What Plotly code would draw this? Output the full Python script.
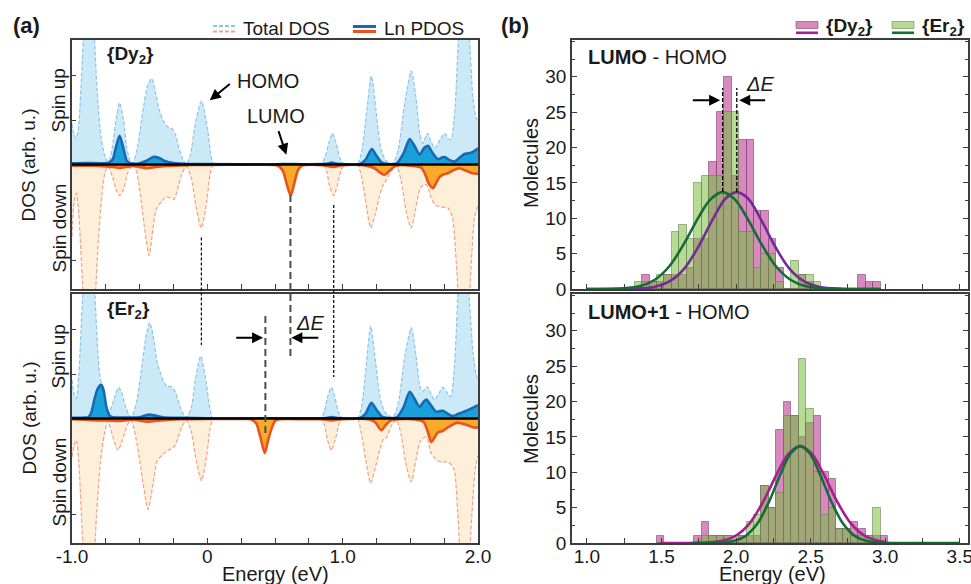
import plotly.graph_objects as go

W, H = 971, 584
FONT = "Liberation Sans, Arial, sans-serif"

# ---------------- Density of states, (energy in eV, DOS in arb. u.) ----------------
DY_UP_TOTAL = [
    (-1.00, 0.33), (-0.985, 0.24), (-0.968, 0.21), (-0.95, 0.32), (-0.93, 0.70), (-0.905, 1.25),
    (-0.875, 1.60), (-0.845, 1.25), (-0.815, 0.60), (-0.785, 0.22), (-0.755, 0.06), (-0.73, 0.02),
    (-0.70, 0.15), (-0.675, 0.36), (-0.648, 0.495), (-0.62, 0.36), (-0.595, 0.13), (-0.57, 0.03),
    (-0.55, 0.01), (-0.52, 0.12), (-0.48, 0.40), (-0.44, 0.64), (-0.41, 0.69), (-0.38, 0.56),
    (-0.35, 0.42), (-0.32, 0.34), (-0.29, 0.30), (-0.26, 0.285), (-0.235, 0.24), (-0.21, 0.13),
    (-0.18, 0.04), (-0.155, 0.0), (-0.125, 0.08), (-0.09, 0.32), (-0.044, 0.51), (0.0, 0.30),
    (0.025, 0.08), (0.045, 0.0), (0.07, 0.0), (0.80, 0.0), (0.84, 0.0), (0.87, 0.06), (0.90, 0.18),
    (0.924, 0.25), (0.95, 0.18), (0.98, 0.05), (1.01, 0.0), (1.04, 0.0), (1.08, 0.0), (1.11, 0.0),
    (1.14, 0.10), (1.175, 0.40), (1.212, 0.71), (1.245, 0.45), (1.28, 0.14), (1.32, 0.03),
    (1.37, 0.01), (1.41, 0.12), (1.46, 0.50), (1.507, 0.75), (1.54, 0.55), (1.57, 0.25),
    (1.594, 0.17), (1.626, 0.25), (1.655, 0.18), (1.68, 0.13), (1.72, 0.20), (1.754, 0.25),
    (1.78, 0.21), (1.80, 0.20), (1.83, 0.45), (1.86, 1.10), (1.90, 1.55), (1.935, 1.05),
    (1.963, 0.53), (1.985, 0.38), (2.0, 0.35),
]
DY_UP_LN = [
    (-1.0, 0.01), (-0.9, 0.012), (-0.8, 0.01), (-0.73, 0.015), (-0.70, 0.04), (-0.675, 0.14),
    (-0.648, 0.23), (-0.62, 0.13), (-0.595, 0.03), (-0.57, 0.01), (-0.50, 0.01), (-0.45, 0.03),
    (-0.40, 0.06), (-0.36, 0.055), (-0.32, 0.03), (-0.25, 0.012), (-0.15, 0.004), (0.0, 0.003),
    (0.5, 0.002), (0.6, 0.004), (0.7, 0.002), (0.88, 0.005), (0.92, 0.015), (0.96, 0.005),
    (1.13, 0.005), (1.17, 0.04), (1.215, 0.125), (1.25, 0.07), (1.29, 0.015), (1.34, 0.003),
    (1.40, 0.01), (1.45, 0.09), (1.495, 0.205), (1.53, 0.15), (1.569, 0.08), (1.60, 0.13),
    (1.63, 0.15), (1.66, 0.10), (1.704, 0.043), (1.73, 0.055), (1.754, 0.06), (1.79, 0.035),
    (1.828, 0.024), (1.87, 0.06), (1.90, 0.085), (1.93, 0.09), (1.96, 0.10), (2.0, 0.13),
]
DY_DN_TOTAL = [
    (-1.0, -0.58), (-0.985, -0.30), (-0.968, -0.23), (-0.95, -0.40), (-0.925, -0.90), (-0.90, -1.40),
    (-0.87, -1.60), (-0.84, -1.30), (-0.81, -0.70), (-0.78, -0.25), (-0.755, -0.06), (-0.734, -0.016),
    (-0.70, -0.10), (-0.675, -0.20), (-0.648, -0.25), (-0.62, -0.20), (-0.59, -0.07), (-0.56, -0.01),
    (-0.537, -0.01), (-0.50, -0.20), (-0.465, -0.50), (-0.43, -0.73), (-0.40, -0.50), (-0.377, -0.36),
    (-0.34, -0.30), (-0.303, -0.26), (-0.27, -0.27), (-0.246, -0.28), (-0.22, -0.20), (-0.19, -0.08),
    (-0.155, -0.016), (-0.12, -0.10), (-0.085, -0.33), (-0.044, -0.51), (-0.005, -0.30), (0.02, -0.08),
    (0.042, -0.003), (0.07, 0.0), (0.46, 0.0), (0.50, 0.0), (0.53, -0.015), (0.56, -0.06),
    (0.59, -0.17), (0.616, -0.25), (0.645, -0.15), (0.67, -0.05), (0.70, -0.01), (0.72, 0.0),
    (0.75, 0.0), (0.82, 0.0), (0.855, 0.0), (0.88, -0.05), (0.905, -0.18), (0.933, -0.25),
    (0.96, -0.17), (0.99, -0.04), (1.015, 0.0), (1.04, 0.0), (1.08, 0.0), (1.11, 0.0),
    (1.14, -0.10), (1.17, -0.30), (1.207, -0.51), (1.24, -0.40), (1.273, -0.25), (1.30, -0.16),
    (1.32, -0.13), (1.36, -0.05), (1.397, -0.01), (1.43, -0.12), (1.47, -0.38), (1.507, -0.51),
    (1.54, -0.35), (1.57, -0.20), (1.60, -0.16), (1.625, -0.17), (1.655, -0.27), (1.69, -0.33),
    (1.73, -0.34), (1.778, -0.35), (1.81, -0.42), (1.84, -0.80), (1.87, -1.30), (1.90, -1.55),
    (1.93, -1.20), (1.955, -0.70), (1.975, -0.42), (2.0, -0.33),
]
DY_DN_LN = [
    (-1.0, -0.01), (-0.85, -0.01), (-0.75, -0.015), (-0.70, -0.02), (-0.648, -0.027), (-0.60, -0.02),
    (-0.55, -0.012), (-0.50, -0.02), (-0.44, -0.03), (-0.38, -0.02), (-0.30, -0.012), (-0.2, -0.008),
    (-0.1, -0.004), (0.0, -0.003), (0.3, -0.002), (0.50, -0.003), (0.53, -0.015), (0.56, -0.056),
    (0.59, -0.17), (0.616, -0.25), (0.645, -0.14), (0.67, -0.045), (0.70, -0.01), (0.72, -0.004),
    (0.85, -0.005), (0.933, -0.02), (1.0, -0.006), (1.15, -0.005), (1.236, -0.03), (1.27, -0.06),
    (1.31, -0.083), (1.345, -0.05), (1.384, -0.015), (1.42, -0.005), (1.50, -0.01), (1.58, -0.025),
    (1.61, -0.08), (1.635, -0.15), (1.667, -0.19), (1.69, -0.15), (1.716, -0.10), (1.745, -0.08),
    (1.778, -0.07), (1.82, -0.045), (1.865, -0.03), (1.90, -0.045), (1.926, -0.056), (1.96, -0.07),
    (2.0, -0.075),
]
ER_UP_TOTAL = [
    (-1.0, 0.31), (-0.985, 0.20), (-0.968, 0.16), (-0.95, 0.35), (-0.925, 0.90), (-0.90, 1.40),
    (-0.875, 1.65), (-0.85, 1.40), (-0.833, 1.05), (-0.81, 0.55), (-0.796, 0.36), (-0.775, 0.22),
    (-0.755, 0.08), (-0.734, 0.03), (-0.70, 0.12), (-0.675, 0.21), (-0.655, 0.25), (-0.63, 0.20),
    (-0.60, 0.08), (-0.562, 0.01), (-0.52, 0.15), (-0.48, 0.45), (-0.45, 0.68), (-0.426, 0.77),
    (-0.40, 0.66), (-0.37, 0.45), (-0.328, 0.31), (-0.30, 0.26), (-0.266, 0.255), (-0.24, 0.22),
    (-0.217, 0.15), (-0.19, 0.06), (-0.155, 0.01), (-0.12, 0.08), (-0.09, 0.30), (-0.049, 0.50),
    (-0.01, 0.30), (0.02, 0.07), (0.042, 0.0), (0.07, 0.0), (0.80, 0.0), (0.84, 0.0), (0.865, 0.06),
    (0.89, 0.18), (0.916, 0.25), (0.94, 0.18), (0.97, 0.05), (1.0, 0.0), (1.04, 0.0), (1.08, 0.0),
    (1.11, 0.0), (1.14, 0.10), (1.17, 0.38), (1.207, 0.74), (1.24, 0.48), (1.28, 0.15),
    (1.32, 0.04), (1.372, 0.01), (1.41, 0.12), (1.46, 0.50), (1.507, 0.73), (1.54, 0.52),
    (1.57, 0.26), (1.586, 0.215), (1.626, 0.255), (1.655, 0.19), (1.68, 0.15), (1.71, 0.20),
    (1.741, 0.25), (1.77, 0.21), (1.798, 0.175), (1.825, 0.40), (1.855, 1.05), (1.895, 1.55),
    (1.93, 1.05), (1.963, 0.53), (1.985, 0.36), (2.0, 0.30),
]
ER_UP_LN = [
    (-1.0, 0.005), (-0.95, 0.005), (-0.90, 0.008), (-0.88, 0.01), (-0.857, 0.05), (-0.835, 0.15),
    (-0.81, 0.24), (-0.783, 0.27), (-0.765, 0.22), (-0.746, 0.094), (-0.72, 0.02), (-0.70, 0.01),
    (-0.60, 0.008), (-0.50, 0.01), (-0.46, 0.025), (-0.426, 0.032), (-0.39, 0.025), (-0.33, 0.01),
    (-0.2, 0.005), (0.0, 0.002), (0.5, 0.002), (0.88, 0.004), (0.916, 0.012), (0.96, 0.004),
    (1.13, 0.005), (1.17, 0.04), (1.212, 0.126), (1.25, 0.07), (1.29, 0.015), (1.34, 0.003),
    (1.40, 0.01), (1.45, 0.09), (1.495, 0.215), (1.53, 0.16), (1.569, 0.094), (1.595, 0.13),
    (1.618, 0.153), (1.65, 0.11), (1.69, 0.054), (1.715, 0.058), (1.741, 0.062), (1.78, 0.035),
    (1.815, 0.019), (1.86, 0.04), (1.91, 0.06), (1.96, 0.085), (2.0, 0.108),
]
ER_DN_TOTAL = [
    (-1.0, -0.31), (-0.985, -0.22), (-0.968, -0.175), (-0.95, -0.35), (-0.925, -0.90), (-0.90, -1.40),
    (-0.87, -1.62), (-0.845, -1.35), (-0.82, -0.80), (-0.79, -0.35), (-0.76, -0.12), (-0.734, -0.02),
    (-0.70, -0.14), (-0.66, -0.255), (-0.63, -0.18), (-0.59, -0.05), (-0.562, -0.015), (-0.52, -0.20),
    (-0.475, -0.52), (-0.438, -0.73), (-0.40, -0.52), (-0.37, -0.34), (-0.33, -0.29), (-0.29, -0.255),
    (-0.246, -0.23), (-0.22, -0.17), (-0.19, -0.07), (-0.155, -0.015), (-0.12, -0.10), (-0.085, -0.32),
    (-0.044, -0.50), (-0.005, -0.30), (0.02, -0.08), (0.042, -0.003), (0.07, 0.0), (0.26, 0.0),
    (0.30, 0.0), (0.33, -0.01), (0.36, -0.04), (0.39, -0.14), (0.424, -0.277), (0.45, -0.18),
    (0.473, -0.09), (0.50, -0.02), (0.53, -0.003), (0.56, 0.0), (0.80, 0.0), (0.84, 0.0),
    (0.865, -0.05), (0.89, -0.18), (0.916, -0.255), (0.945, -0.17), (0.975, -0.04), (1.0, 0.0),
    (1.04, 0.0), (1.08, 0.0), (1.11, 0.0), (1.138, -0.12), (1.17, -0.33), (1.207, -0.52),
    (1.24, -0.40), (1.273, -0.255), (1.30, -0.17), (1.32, -0.16), (1.36, -0.06), (1.397, -0.01),
    (1.43, -0.12), (1.47, -0.38), (1.507, -0.51), (1.54, -0.34), (1.575, -0.18), (1.618, -0.15),
    (1.655, -0.28), (1.704, -0.34), (1.74, -0.35), (1.778, -0.35), (1.82, -0.40), (1.85, -0.75),
    (1.875, -1.25), (1.90, -1.60), (1.93, -1.25), (1.956, -0.75), (1.98, -0.40), (2.0, -0.30),
]
ER_DN_LN = [
    (-1.0, -0.005), (-0.9, -0.01), (-0.8, -0.015), (-0.73, -0.015), (-0.66, -0.02), (-0.55, -0.01),
    (-0.44, -0.025), (-0.35, -0.015), (-0.2, -0.006), (0.0, -0.003), (0.25, -0.003), (0.30, -0.004),
    (0.33, -0.01), (0.362, -0.04), (0.39, -0.14), (0.424, -0.277), (0.45, -0.17), (0.473, -0.085),
    (0.50, -0.02), (0.522, -0.008), (0.70, -0.005), (0.85, -0.006), (0.916, -0.015), (1.0, -0.005),
    (1.20, -0.008), (1.24, -0.03), (1.286, -0.094), (1.32, -0.05), (1.36, -0.013), (1.42, -0.005),
    (1.55, -0.01), (1.60, -0.03), (1.63, -0.11), (1.655, -0.19), (1.68, -0.15), (1.704, -0.11),
    (1.74, -0.10), (1.78, -0.07), (1.84, -0.035), (1.88, -0.04), (1.926, -0.055), (1.96, -0.07),
    (2.0, -0.073),
]

# Frontier-orbital energies (eV)
HOMO_E = -0.044
LUMO_DY_E = 0.614
LUMO_ER_E = 0.429
LUMO1_E = 0.934

# ---------------- Gap histograms (bin centres in eV, counts) ----------------
BIN_WIDTH = 0.05
LH_BINS = [1.345, 1.395, 1.445, 1.495, 1.545, 1.595, 1.645, 1.695, 1.745, 1.795, 1.845,
           1.895, 1.945, 1.995, 2.045, 2.095, 2.145, 2.195, 2.245, 2.295, 2.345, 2.395,
           2.445, 2.495, 2.545, 2.595, 2.645, 2.695, 2.745, 2.795, 2.845, 2.895, 2.945]
LH_DY = [0, 2, 1, 1, 2, 2, 2, 3, 7, 7, 18, 25, 30, 16, 21, 21, 11, 11, 7, 3, 0, 0,
         2, 1, 0, 0, 0, 0, 0, 0, 2, 1, 1]
LH_ER = [1, 1, 1, 2, 2, 8, 9, 7, 15, 16, 16, 16, 25, 25, 8, 8, 3, 5, 5, 1, 0, 4,
         2, 2, 1, 0, 0, 0, 0, 0, 0, 0, 0]

L1H_BINS = [1.495, 1.545, 1.595, 1.645, 1.695, 1.745, 1.795, 1.845, 1.895, 1.945, 1.995,
            2.045, 2.095, 2.145, 2.195, 2.245, 2.295, 2.345, 2.395, 2.445, 2.495, 2.545,
            2.595, 2.645, 2.695, 2.745, 2.795, 2.845, 2.895, 2.945, 2.995]
L1H_DY = [1, 0, 0, 0, 0, 1, 3, 1, 1, 1, 0, 1, 1, 1, 8, 5, 16, 20, 18, 15, 17, 18,
          10, 9, 2, 2, 3, 2, 1, 1, 1]
L1H_ER = [0, 0, 0, 0, 0, 0, 1, 1, 1, 1, 1, 1, 3, 4, 8, 5, 7, 18, 18, 26, 19, 10,
          4, 5, 2, 2, 1, 1, 1, 5, 0]

# Gaussian fit curves, sampled (eV, molecules)
LH_FIT_DY_X = [1.0, 1.3, 1.45, 1.55, 1.65, 1.75, 1.85, 1.93, 2.005, 2.08, 2.16, 2.26, 2.36, 2.46, 2.56, 2.71, 2.97]
LH_FIT_DY_Y = [0.0, 0.03, 0.29, 1.03, 2.82, 6.08, 10.1, 12.8, 13.7, 12.8, 10.1, 6.08, 2.82, 1.03, 0.29, 0.03, 0.0]
LH_FIT_ER_X = [1.0, 1.2, 1.35, 1.45, 1.55, 1.65, 1.75, 1.83, 1.91, 1.99, 2.07, 2.17, 2.27, 2.37, 2.47, 2.62, 2.97]
LH_FIT_ER_Y = [0.0, 0.05, 0.39, 1.24, 3.15, 6.37, 10.2, 12.7, 13.7, 12.7, 10.2, 6.37, 3.15, 1.24, 0.39, 0.05, 0.0]
L1H_FIT_DY_X = [1.5, 1.746, 1.898, 1.993, 2.088, 2.183, 2.278, 2.354, 2.43, 2.506, 2.582, 2.677, 2.772, 2.867, 2.962, 3.0]
L1H_FIT_DY_Y = [0.0, 0.02, 0.27, 0.97, 2.71, 5.89, 9.95, 12.65, 13.7, 12.65, 9.95, 5.89, 2.71, 0.97, 0.27, 0.15]
L1H_FIT_ER_X = [1.7, 1.854, 1.982, 2.062, 2.142, 2.222, 2.302, 2.366, 2.43, 2.494, 2.558, 2.638, 2.718, 2.798, 2.878, 3.006, 3.2, 3.5]
L1H_FIT_ER_Y = [0.0, 0.02, 0.27, 0.97, 2.71, 5.89, 9.95, 12.65, 13.7, 12.65, 9.95, 5.89, 2.71, 0.97, 0.27, 0.02, 0.0, 0.0]
LH_CENTER_DY = 2.005
LH_CENTER_ER = 1.91
FIT_PEAK = 13.7

# ---------------- styling ----------------
UP_TOT_LINE, UP_TOT_FILL = "#8cc4ea", "#cce9f7"
UP_LN_LINE, UP_LN_FILL = "#1769b3", "#19a1dc"
DN_TOT_LINE, DN_TOT_FILL = "#f3a283", "#fdefd9"
DN_LN_LINE, DN_LN_FILL = "#e9531c", "#f9aa2a"
DY_BAR, DY_BAR_EDGE = "rgba(190,60,150,0.6)", "rgba(110,60,100,0.55)"
ER_BAR, ER_BAR_EDGE = "rgba(120,190,60,0.55)", "rgba(100,120,80,0.55)"
DY_FIT_TOP, DY_FIT_BOT, ER_FIT = "#76299b", "#a3208e", "#166b37"
FRAME = "#3c3c3c"


def px(x):
    return x / W


def py(y):
    return 1 - y / H


def dos_trace(data, xa, ya, color, fill, width, dash):
    return go.Scatter(
        x=[p[0] for p in data], y=[p[1] for p in data], xaxis=xa, yaxis=ya,
        mode="lines", fill="tozeroy", fillcolor=fill,
        line=dict(color=color, width=width, dash=dash, shape="spline", smoothing=0.7),
        hoverinfo="skip", showlegend=False)


fig = go.Figure()

for xa, ya, up_t, dn_t, up_l, dn_l in [
    ("x", "y", DY_UP_TOTAL, DY_DN_TOTAL, DY_UP_LN, DY_DN_LN),
    ("x2", "y2", ER_UP_TOTAL, ER_DN_TOTAL, ER_UP_LN, ER_DN_LN),
]:
    fig.add_trace(dos_trace(up_t, xa, ya, UP_TOT_LINE, UP_TOT_FILL, 1.2, "4px,2px"))
    fig.add_trace(dos_trace(dn_t, xa, ya, DN_TOT_LINE, DN_TOT_FILL, 1.2, "4px,2px"))
    fig.add_trace(dos_trace(up_l, xa, ya, UP_LN_LINE, UP_LN_FILL, 2.6, "solid"))
    fig.add_trace(dos_trace(dn_l, xa, ya, DN_LN_LINE, DN_LN_FILL, 2.6, "solid"))

for xa, ya, bins, dy, er in [("x3", "y3", LH_BINS, LH_DY, LH_ER),
                              ("x4", "y4", L1H_BINS, L1H_DY, L1H_ER)]:
    fig.add_trace(go.Bar(x=bins, y=dy, width=BIN_WIDTH, xaxis=xa, yaxis=ya,
                         marker=dict(color=DY_BAR, line=dict(color=DY_BAR_EDGE, width=1)),
                         hoverinfo="skip", showlegend=False))
    fig.add_trace(go.Bar(x=bins, y=er, width=BIN_WIDTH, xaxis=xa, yaxis=ya,
                         marker=dict(color=ER_BAR, line=dict(color=ER_BAR_EDGE, width=1)),
                         hoverinfo="skip", showlegend=False))

for xa, ya, xs, ys, col in [
    ("x3", "y3", LH_FIT_DY_X, LH_FIT_DY_Y, DY_FIT_TOP),
    ("x3", "y3", LH_FIT_ER_X, LH_FIT_ER_Y, ER_FIT),
    ("x4", "y4", L1H_FIT_DY_X, L1H_FIT_DY_Y, DY_FIT_BOT),
    ("x4", "y4", L1H_FIT_ER_X, L1H_FIT_ER_Y, ER_FIT),
]:
    fig.add_trace(go.Scatter(x=xs, y=ys, xaxis=xa, yaxis=ya, mode="lines",
                             line=dict(color=col, width=2.6, shape="spline", smoothing=1.0),
                             hoverinfo="skip", showlegend=False))

# ---------------- axes ----------------
frame = dict(showline=True, linecolor=FRAME, linewidth=1.6, mirror=True, automargin=False,
             showgrid=False, zeroline=False, ticks="inside", tickcolor=FRAME,
             tickwidth=1.3, ticklabeloverflow="allow",
             tickfont=dict(family=FONT, size=19, color="#1a1a1a"))
LX = [px(72), px(478)]
RX = [px(572), px(968)]
TOPY = [py(289), py(40)]
BOTY = [py(543), py(294)]
left_x = dict(frame, range=[-1, 2], tickvals=[-1, 0, 1, 2], ticklen=5, ticklabelstandoff=-5,
              minor=dict(dtick=0.25, tick0=-1, ticks="inside", ticklen=5, tickcolor=FRAME))
left_y = dict(frame, range=[-1, 1], tickvals=[0.355, 0.715, -0.774], ticklen=4,
              showticklabels=False)
right_x = dict(frame, range=[0.9, 3.555], tickvals=[1.0, 1.5, 2.0, 2.5, 3.0, 3.5],
               ticktext=["1.0", "1.5", "2.0", "2.5", "3.0", "3.5"], ticklen=5,
               ticklabelstandoff=-5,
               minor=dict(dtick=0.25, tick0=1.0, ticks="inside", ticklen=5, tickcolor=FRAME))
right_y = dict(frame, range=[0, 35.2], tickvals=[0, 5, 10, 15, 20, 25, 30], ticklen=5,
               mirror="ticks",
               minor=dict(dtick=2.5, tick0=0, ticks="inside", ticklen=3, tickcolor=FRAME))

fig.update_layout(
    template="none",
    width=W, height=H, margin=dict(l=0, r=0, t=0, b=0, pad=0, autoexpand=False),
    paper_bgcolor="white", plot_bgcolor="white", barmode="overlay", bargap=0,
    showlegend=False, font=dict(family=FONT, size=19, color="#1a1a1a"),
    xaxis=dict(left_x, domain=LX, anchor="y", showticklabels=False),
    yaxis=dict(left_y, domain=TOPY, anchor="x"),
    xaxis2=dict(left_x, domain=LX, anchor="y2", ticktext=["-1.0", "0", "1.0", "2.0"]),
    yaxis2=dict(left_y, domain=BOTY, anchor="x2"),
    xaxis3=dict(right_x, domain=RX, anchor="y3", showticklabels=False),
    yaxis3=dict(right_y, domain=TOPY, anchor="x3"),
    xaxis4=dict(right_x, domain=RX, anchor="y4"),
    yaxis4=dict(right_y, domain=BOTY, anchor="x4"),
)

# ---------------- shapes ----------------
shapes = []
for ya in ("y", "y2"):
    shapes.append(dict(type="line", xref="x domain", yref=ya, x0=0, x1=1, y0=0, y1=0,
                       line=dict(color="black", width=2.4), layer="above"))
dotted = dict(color="black", width=1.2, dash="3px,2px")
dashed = dict(color="#4d4d4d", width=2, dash="7px,4px")
shapes += [
    dict(type="line", xref="x", yref="paper", x0=HOMO_E, x1=HOMO_E, y0=py(237.5), y1=py(345), line=dotted),
    dict(type="line", xref="x", yref="paper", x0=LUMO1_E, x1=LUMO1_E, y0=py(205), y1=py(377), line=dotted),
    dict(type="line", xref="x", yref="paper", x0=LUMO_DY_E, x1=LUMO_DY_E, y0=py(195), y1=py(358), line=dashed),
    dict(type="line", xref="x2", yref="paper", x0=LUMO_ER_E, x1=LUMO_ER_E, y0=py(316), y1=py(433), line=dashed),
    dict(type="line", xref="x3", yref="y3", x0=LH_CENTER_ER, x1=LH_CENTER_ER, y0=FIT_PEAK, y1=28.4,
         line=dict(color="black", width=1.3, dash="4px,2px")),
    dict(type="line", xref="x3", yref="y3", x0=LH_CENTER_DY, x1=LH_CENTER_DY, y0=FIT_PEAK, y1=28.4,
         line=dict(color="black", width=1.3, dash="4px,2px")),
]
# legend samples
shapes += [
    dict(type="line", xref="paper", yref="paper", x0=px(213), x1=px(237), y0=py(26), y1=py(26),
         line=dict(color=UP_TOT_LINE, width=2, dash="4px,2px")),
    dict(type="line", xref="paper", yref="paper", x0=px(213), x1=px(237), y0=py(31.5), y1=py(31.5),
         line=dict(color=DN_TOT_LINE, width=2, dash="4px,2px")),
    dict(type="line", xref="paper", yref="paper", x0=px(353), x1=px(376), y0=py(26.5), y1=py(26.5),
         line=dict(color=UP_LN_LINE, width=3)),
    dict(type="line", xref="paper", yref="paper", x0=px(353), x1=px(376), y0=py(31.5), y1=py(31.5),
         line=dict(color=DN_LN_LINE, width=3)),
    dict(type="rect", xref="paper", yref="paper", x0=px(796), x1=px(818), y0=py(28.5), y1=py(21.5),
         fillcolor=DY_BAR, line=dict(color=DY_BAR_EDGE, width=1)),
    dict(type="line", xref="paper", yref="paper", x0=px(796), x1=px(818), y0=py(32.8), y1=py(32.8),
         line=dict(color=DY_FIT_BOT, width=2.6)),
    dict(type="rect", xref="paper", yref="paper", x0=px(892), x1=px(914), y0=py(28.5), y1=py(21.5),
         fillcolor=ER_BAR, line=dict(color=ER_BAR_EDGE, width=1)),
    dict(type="line", xref="paper", yref="paper", x0=px(892), x1=px(914), y0=py(32.8), y1=py(32.8),
         line=dict(color=ER_FIT, width=2.6)),
]
fig.update_layout(shapes=shapes)

# ---------------- text ----------------
ann = []


def text(x, y, s, size=19, xanchor="center", angle=0, color="#1a1a1a"):
    ann.append(dict(x=px(x), y=py(y), xref="paper", yref="paper", text=s, showarrow=False,
                    xanchor=xanchor, yanchor="middle", textangle=angle,
                    font=dict(family=FONT, size=size, color=color)))


def arrow(xref, yref, x, y, ax, ay):
    ann.append(dict(x=x, y=y, ax=ax, ay=ay, xref=xref, yref=yref, axref=xref, ayref=yref,
                    text="", showarrow=True, arrowhead=2, arrowsize=1.1, arrowwidth=2,
                    arrowcolor="black"))


text(26, 26, "<b>(a)</b>", size=22)
text(515, 26, "<b>(b)</b>", size=22)
text(241, 28.5, "Total DOS", xanchor="left")
text(382, 28.5, "Ln PDOS", xanchor="left")
text(824, 27, "<b>{Dy<sub>2</sub>}</b>", xanchor="left")
text(920, 27, "<b>{Er<sub>2</sub>}</b>", xanchor="left")
text(105, 55, "<b>{Dy<sub>2</sub>}</b>", xanchor="left")
text(105, 310, "<b>{Er<sub>2</sub>}</b>", xanchor="left")
for yc, ys_up, ys_dn in [(165, 101, 228), (418, 357, 482)]:
    text(28.5, yc, "DOS (arb. u.)", angle=-90)
    text(58.5, ys_up, "Spin up", angle=-90)
    text(58.5, ys_dn, "Spin down", angle=-90)
text(275, 574, "Energy (eV)", size=20)
text(772, 574, "Energy (eV)", size=20)
text(531, 163, "Molecules", size=20, angle=-90)
text(531, 419, "Molecules", size=20, angle=-90)
text(586, 57, "<b>LUMO</b> - HOMO", size=20, xanchor="left")
text(586, 312, "<b>LUMO+1</b> - HOMO", size=20, xanchor="left")
text(268, 81, "HOMO", size=20)
text(276, 116, "LUMO", size=20)
text(310, 323, "<i>ΔE</i>", size=20)
text(760, 84, "<i>ΔE</i>", size=20)

arrow("x", "y", 0.018, 0.516, 0.177, 0.656)
arrow("x", "y", 0.584, 0.078, 0.5225, 0.28)
arrow("x2", "y2", 0.412, 0.648, 0.2025, 0.648)
arrow("x2", "y2", 0.621, 0.648, 0.831, 0.648)
arrow("x3", "y3", 1.893, 26.7, 1.70, 26.7)
arrow("x3", "y3", 2.021, 26.7, 2.205, 26.7)

fig.update_layout(annotations=ann)
fig.write_html("out.html")
